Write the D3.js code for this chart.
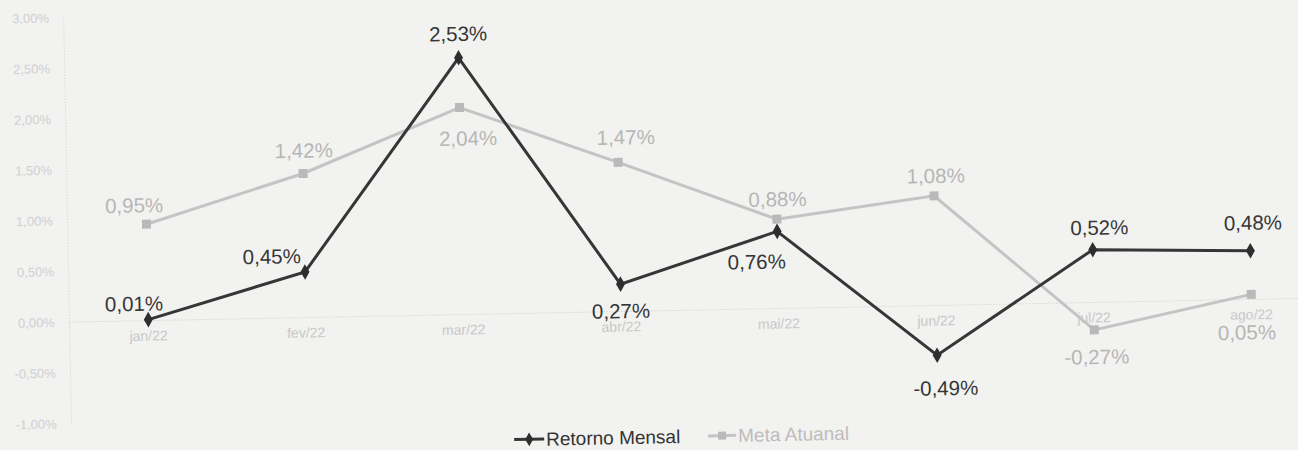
<!DOCTYPE html>
<html>
<head>
<meta charset="utf-8">
<script src="https://cdn.jsdelivr.net/npm/d3@7/dist/d3.min.js"></script>
<style>
  html, body { margin: 0; padding: 0; background: #f2f2f0; }
  svg { display: block; font-family: "Liberation Sans", Arial, sans-serif; }
</style>
</head>
<body>
<div id="chart"></div>
<script>
// data
var months = ["jan/22", "fev/22", "mar/22", "abr/22", "mai/22", "jun/22", "jul/22", "ago/22"];
var retorno = [0.01, 0.45, 2.53, 0.27, 0.76, -0.49, 0.52, 0.48];
var meta = [0.95, 1.42, 2.04, 1.47, 0.88, 1.08, -0.27, 0.05];
var yTicks = [-1, -0.5, 0, 0.5, 1, 1.5, 2, 2.5, 3];
var seriesNames = ["Retorno Mensal", "Meta Atuanal"];

// label nudges (px) for the data labels, as placed in the original
var retornoNudge = [[-14, -16], [-33, -16], [0, -24], [0, 27], [-21, 30], [8, 33], [7, -22], [3, -28]];
var metaNudge = [[-12, -19], [1, -23], [8, 31], [8, -25], [1, -20], [2, -20], [2, 27], [-5, 38]];

var W = 1298, H = 450;
// pt-BR style: comma decimal, plain hyphen minus
var fmt = function(v) {
  return d3.format(".2f")(v).replace("\u2212", "-").replace(".", ",") + "%";
};

var svg = d3.select("#chart").append("svg")
    .attr("width", W)
    .attr("height", H);

svg.append("rect").attr("width", W).attr("height", H).attr("fill", "#f2f2f0");

// the scan is slightly tilted
var g = svg.append("g")
    .attr("transform", "rotate(-1.1, 700, 220)");

var x = d3.scaleBand()
    .domain(months)
    .range([67.7, 67.7 + 157.6 * months.length]);

var y = d3.scaleLinear()
    .domain([-1, 3])
    .range([411.5, 5.5]);

var cx = function(i) { return x(months[i]) + x.bandwidth() / 2; };

// y axis labels
g.selectAll(".ytick")
  .data(yTicks)
.enter().append("text")
  .attr("class", "ytick")
  .attr("x", 53)
  .attr("y", function(d) { return y(d); })
  .attr("dy", "0.35em")
  .attr("text-anchor", "end")
  .attr("font-size", 13)
  .attr("fill", "#d0d0d0")
  .text(fmt);

// dotted y axis line and zero line
g.append("line")
  .attr("x1", 67.7).attr("x2", 67.7)
  .attr("y1", y(3)).attr("y2", y(-1))
  .attr("stroke", "#d0d0d0")
  .attr("stroke-dasharray", "1,2");

g.append("line")
  .attr("x1", 67.7).attr("x2", x.range()[1])
  .attr("y1", y(0)).attr("y2", y(0))
  .attr("stroke", "#c8c8c8")
  .attr("stroke-dasharray", "1,2");

// category labels under zero line
g.selectAll(".xtick")
  .data(months)
.enter().append("text")
  .attr("class", "xtick")
  .attr("x", function(d, i) { return cx(i); })
  .attr("y", y(0) + 20)
  .attr("text-anchor", "middle")
  .attr("font-size", 14)
  .attr("fill", "#c8c8c8")
  .text(function(d) { return d; });

var line = d3.line()
  .x(function(d, i) { return cx(i); })
  .y(function(d) { return y(d); });

// Meta Atuanal
g.append("path")
  .datum(meta)
  .attr("d", line)
  .attr("fill", "none")
  .attr("stroke", "#c4c4c4")
  .attr("stroke-width", 3);

g.selectAll(".metaPt")
  .data(meta)
.enter().append("rect")
  .attr("class", "metaPt")
  .attr("x", function(d, i) { return cx(i) - 4.5; })
  .attr("y", function(d) { return y(d) - 4.5; })
  .attr("width", 9)
  .attr("height", 9)
  .attr("fill", "#b9b9b9");

// Retorno Mensal
g.append("path")
  .datum(retorno)
  .attr("d", line)
  .attr("fill", "none")
  .attr("stroke", "#363636")
  .attr("stroke-width", 3);

g.selectAll(".retPt")
  .data(retorno)
.enter().append("path")
  .attr("class", "retPt")
  .attr("transform", function(d, i) { return "translate(" + cx(i) + "," + y(d) + ")"; })
  .attr("d", d3.symbol().type(d3.symbolDiamond).size(70))
  .attr("fill", "#2e2e2e");

// data labels
g.selectAll(".metaLbl")
  .data(meta)
.enter().append("text")
  .attr("class", "metaLbl")
  .attr("x", function(d, i) { return cx(i) + metaNudge[i][0]; })
  .attr("y", function(d, i) { return y(d) + metaNudge[i][1]; })
  .attr("dy", "0.35em")
  .attr("text-anchor", "middle")
  .attr("font-size", 20.5)
  .attr("fill", "#b6b6b6")
  .text(fmt);

g.selectAll(".retLbl")
  .data(retorno)
.enter().append("text")
  .attr("class", "retLbl")
  .attr("x", function(d, i) { return cx(i) + retornoNudge[i][0]; })
  .attr("y", function(d, i) { return y(d) + retornoNudge[i][1]; })
  .attr("dy", "0.35em")
  .attr("text-anchor", "middle")
  .attr("font-size", 20.5)
  .attr("fill", "#363636")
  .text(fmt);

// legend
var legY = 436;
var leg = g.append("g");

leg.append("line")
  .attr("x1", 510).attr("x2", 540)
  .attr("y1", legY).attr("y2", legY)
  .attr("stroke", "#363636").attr("stroke-width", 3);
leg.append("path")
  .attr("transform", "translate(525," + legY + ")")
  .attr("d", d3.symbol().type(d3.symbolDiamond).size(55))
  .attr("fill", "#2e2e2e");
leg.append("text")
  .attr("x", 542).attr("y", legY).attr("dy", "0.35em")
  .attr("font-size", 19)
  .attr("fill", "#333")
  .text(seriesNames[0]);

leg.append("line")
  .attr("x1", 704).attr("x2", 732)
  .attr("y1", legY).attr("y2", legY)
  .attr("stroke", "#c4c4c4").attr("stroke-width", 3);
leg.append("rect")
  .attr("x", 714).attr("y", legY - 4)
  .attr("width", 8).attr("height", 8)
  .attr("fill", "#b9b9b9");
leg.append("text")
  .attr("x", 734).attr("y", legY).attr("dy", "0.35em")
  .attr("font-size", 19)
  .attr("fill", "#bdbdbd")
  .text(seriesNames[1]);
</script>
</body>
</html>
